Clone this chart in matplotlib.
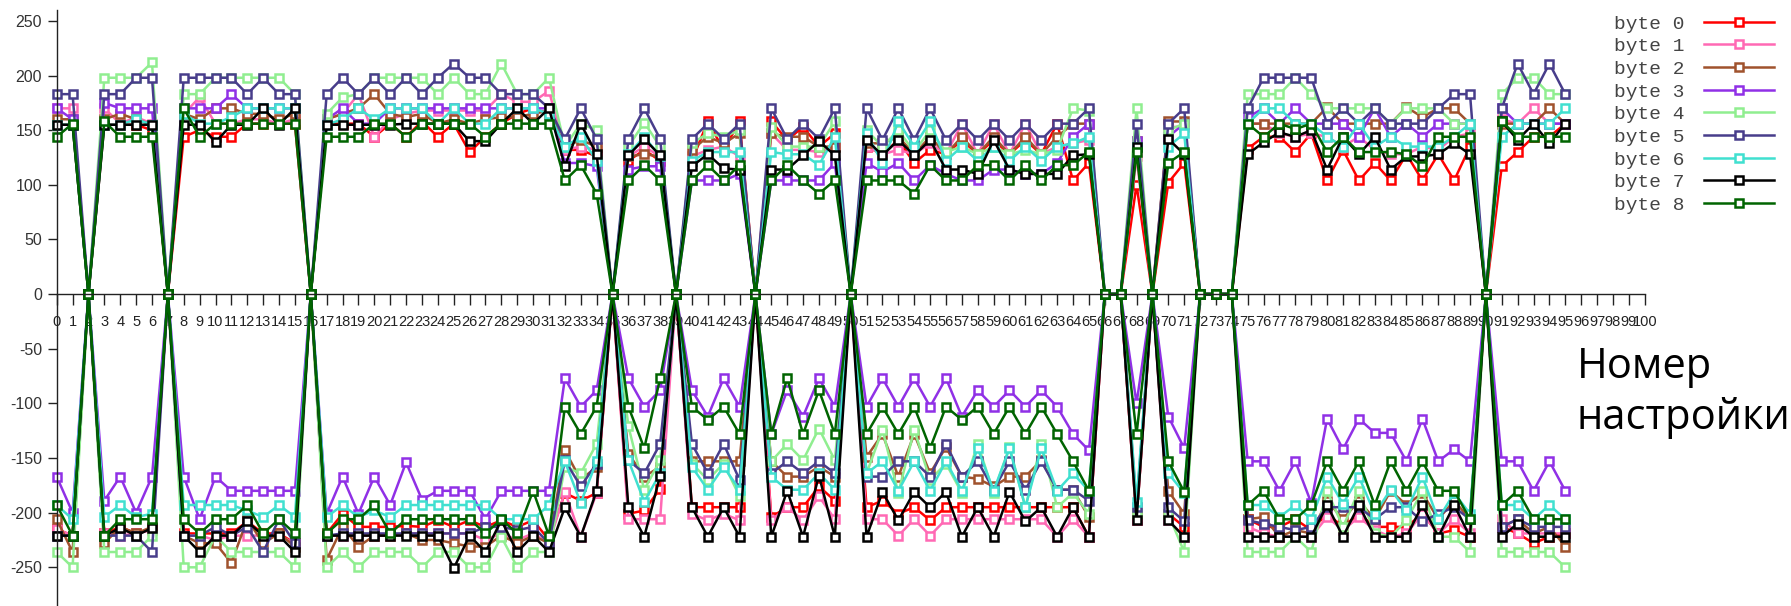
import numpy as np
import matplotlib
matplotlib.use("Agg")
import matplotlib.pyplot as plt

settings = list(range(96))
tick_values = list(range(0, 101))
y_ticks = list(range(-250, 251, 50))
labels = ["byte 0", "byte 1", "byte 2", "byte 3", "byte 4", "byte 5", "byte 6", "byte 7", "byte 8"]
colors = ["#ff0000", "#ff69b4", "#a0522d", "#9030e6", "#90ee90", "#483d8b", "#40e0d0", "#000000", "#006400"]

b0_pos = [155,155,0,155,155,155,150,0,
 144,150,144,144,156,156,156,156,0,
 156,156,156,144,156,144,158,144,156,130,144,156,165,170,165,132,132,126,0,
 122,132,122,0,
 122,158,132,158,0,
 158,141,153,135,147,0,
 135,128,141,120,132,128,141,128,141,128,141,128,156,104,120,0,0,
 100,0,102,120,0,0,0,
 133,144,144,130,147,104,132,104,120,104,128,104,128,104,135,0,
 117,130,144,144,156]
b1_pos = [170,170,0,170,156,162,156,0,
 165,180,156,156,160,160,156,160,0,
 160,165,183,144,160,165,168,168,168,168,168,183,176,176,186,132,135,132,0,
 126,135,126,0,
 126,132,135,126,0,
 147,132,132,130,135,0,
 135,128,132,128,138,128,156,128,156,128,156,128,135,138,141,0,0,
 126,0,153,153,0,0,0,
 156,156,147,144,147,144,135,144,132,128,128,135,132,144,147,0,
 160,156,170,156,156]
b2_pos = [160,160,0,160,165,160,155,0,
 165,160,170,170,165,165,160,165,0,
 160,165,170,183,165,162,165,156,160,156,160,162,162,165,168,135,141,135,0,
 126,128,126,0,
 132,144,138,147,0,
 147,144,144,135,135,0,
 138,138,144,128,144,128,144,128,144,128,144,128,144,156,156,0,0,
 140,0,158,158,0,0,0,
 156,156,156,156,156,171,156,156,156,156,171,162,170,170,156,0,
 156,156,156,170,156]
b3_pos = [170,160,0,175,170,170,170,0,
 170,170,170,183,170,170,170,170,0,
 160,170,156,156,170,170,170,170,170,170,170,170,170,170,170,120,120,117,0,
 114,117,117,0,
 104,104,104,110,0,
 104,104,104,104,120,0,
 120,112,120,104,118,110,104,104,114,114,110,110,120,144,156,0,0,
 140,0,144,156,0,0,0,
 162,170,156,170,156,156,156,144,170,144,156,144,156,156,156,0,
 170,156,156,156,156]
b4_pos = [155,155,0,198,198,198,212,0,
 183,183,198,198,198,198,198,183,0,
 165,180,183,198,198,198,198,183,198,183,183,211,183,183,198,135,156,150,0,
 135,157,135,0,
 138,147,144,150,0,
 153,135,135,135,158,0,
 150,135,150,130,150,130,135,128,135,128,132,128,132,170,168,0,0,
 170,0,150,156,0,0,0,
 183,183,183,198,183,170,170,170,170,156,170,170,170,156,156,0,
 183,198,198,183,183]
b5_pos = [183,183,0,183,183,198,198,0,
 198,198,198,198,183,198,183,183,0,
 183,198,183,198,183,198,183,198,211,198,198,183,183,183,170,142,170,142,0,
 142,170,142,0,
 142,156,142,156,0,
 170,142,156,142,170,0,
 170,141,170,141,170,141,156,141,156,141,156,141,156,156,170,0,0,
 156,0,156,170,0,0,0,
 170,198,198,198,198,156,170,156,170,156,156,156,170,183,183,0,
 170,211,183,211,183]
b6_pos = [155,155,0,155,155,160,155,0,
 165,156,156,162,170,170,170,170,0,
 155,160,170,160,170,170,170,156,170,156,156,170,170,170,165,135,144,122,0,
 128,144,126,0,
 122,130,130,130,0,
 130,128,128,118,144,0,
 147,120,158,135,158,122,135,122,135,122,135,122,135,138,144,0,0,
 135,0,135,147,0,0,0,
 156,170,170,156,156,144,135,156,135,144,135,135,135,144,156,0,
 144,156,156,156,170]
b7_pos = [155,155,0,155,155,155,155,0,
 155,155,139,155,155,170,155,170,0,
 155,155,155,155,155,156,156,156,156,140,140,156,170,156,170,117,156,128,0,
 127,142,127,0,
 117,128,115,114,0,
 114,114,127,140,127,0,
 141,127,141,127,141,114,114,110,141,114,110,110,110,127,128,0,0,
 135,0,142,128,0,0,0,
 128,139,148,144,150,114,144,128,144,114,126,126,128,138,128,0,
 158,141,156,138,156]
b8_pos = [144,156,0,158,144,144,144,0,
 170,144,156,156,156,156,156,156,0,
 144,144,144,156,156,144,156,156,156,156,144,156,156,156,156,104,118,92,0,
 104,118,104,0,
 104,118,104,118,0,
 104,118,104,92,104,0,
 104,104,104,92,118,104,104,118,118,104,118,104,118,118,130,0,0,
 130,0,120,130,0,0,0,
 156,144,156,151,156,130,144,130,130,130,128,117,144,144,144,0,
 158,144,144,144,144]

b0_neg = [-215,-221,0,-219,-213,-219,-215,0,
 -219,-219,-219,-219,-208,-219,-219,-228,0,
 -219,-201,-213,-213,-213,-212,-213,-207,-213,-207,-213,-207,-213,-207,-225,-182,-189,-182,0,
 -201,-198,-178,0,
 -195,-195,-195,-195,0,
 -204,-195,-195,-176,-189,0,
 -195,-189,-201,-195,-207,-195,-195,-195,-195,-195,-195,-195,-195,-195,-222,0,0,
 -207,0,-201,-213,0,0,0,
 -206,-213,-213,-206,-216,-201,-213,-201,-213,-213,-213,-201,-219,-216,-222,0,
 -213,-219,-228,-222,-219]
b1_neg = [-215,-221,0,-219,-221,-219,-216,0,
 -221,-221,-225,-221,-221,-221,-221,-228,0,
 -221,-221,-221,-221,-221,-219,-219,-219,-219,-219,-225,-219,-225,-219,-228,-181,-222,-182,0,
 -206,-206,-206,0,
 -201,-207,-201,-207,0,
 -207,-195,-207,-185,-206,0,
 -206,-206,-221,-206,-221,-206,-206,-206,-206,-206,-206,-206,-222,-206,-222,0,0,
 -207,0,-207,-222,0,0,0,
 -213,-219,-222,-222,-222,-204,-216,-204,-216,-222,-219,-201,-219,-206,-219,0,
 -206,-219,-219,-219,-219]
b2_neg = [-206,-236,0,-228,-213,-219,-213,0,
 -221,-228,-228,-246,-206,-228,-219,-231,0,
 -243,-213,-231,-221,-221,-219,-225,-225,-228,-231,-231,-221,-228,-221,-228,-143,-170,-158,0,
 -146,-167,-158,0,
 -153,-153,-153,-153,0,
 -153,-167,-167,-158,-167,0,
 -149,-128,-167,-128,-164,-140,-167,-169,-176,-167,-167,-152,-179,-179,-204,0,0,
 -200,0,-180,-201,0,0,0,
 -206,-204,-222,-216,-219,-189,-206,-189,-206,-180,-193,-182,-206,-189,-206,0,
 -213,-206,-219,-213,-231]
b3_neg = [-167,-200,0,-189,-167,-200,-167,0,
 -167,-206,-167,-180,-180,-180,-180,-180,0,
 -201,-167,-201,-167,-193,-154,-188,-180,-180,-180,-206,-180,-180,-180,-180,-77,-103,-88,0,
 -77,-103,-88,0,
 -88,-112,-77,-103,0,
 -128,-88,-112,-77,-103,0,
 -103,-77,-103,-77,-103,-77,-112,-88,-103,-88,-103,-88,-103,-128,-143,0,0,
 -100,0,-112,-141,0,0,0,
 -153,-153,-180,-153,-191,-114,-142,-114,-127,-127,-153,-114,-153,-142,-153,0,
 -153,-153,-180,-153,-180]
b4_neg = [-236,-250,0,-236,-236,-236,-221,0,
 -250,-250,-221,-236,-236,-236,-236,-250,0,
 -250,-236,-250,-236,-236,-236,-250,-236,-236,-250,-250,-222,-250,-236,-236,-158,-164,-137,0,
 -121,-179,-152,0,
 -155,-170,-155,-185,0,
 -153,-137,-152,-123,-152,0,
 -164,-124,-182,-124,-170,-155,-182,-137,-182,-140,-195,-137,-195,-182,-201,0,0,
 -200,0,-201,-236,0,0,0,
 -236,-236,-236,-222,-236,-180,-213,-180,-219,-222,-207,-180,-222,-222,-236,0,
 -236,-236,-236,-236,-250]
b5_neg = [-221,-221,0,-221,-221,-221,-236,0,
 -221,-221,-213,-221,-213,-236,-206,-228,0,
 -221,-219,-219,-219,-219,-219,-219,-219,-219,-219,-213,-213,-216,-213,-228,-152,-176,-155,0,
 -152,-164,-137,0,
 -137,-164,-137,-170,0,
 -164,-153,-164,-153,-164,0,
 -167,-167,-153,-153,-167,-137,-167,-153,-179,-153,-179,-153,-179,-179,-189,0,0,
 -195,0,-195,-208,0,0,0,
 -207,-210,-213,-216,-213,-195,-195,-195,-206,-195,-195,-208,-201,-195,-206,0,
 -213,-206,-213,-213,-213]
b6_neg = [-193,-206,0,-204,-193,-204,-201,0,
 -193,-193,-193,-193,-198,-204,-193,-204,0,
 -204,-193,-204,-198,-204,-193,-193,-193,-193,-193,-193,-206,-206,-206,-193,-153,-191,-153,0,
 -152,-190,-164,0,
 -158,-179,-158,-179,0,
 -167,-179,-179,-164,-179,0,
 -164,-153,-180,-153,-180,-153,-180,-141,-180,-141,-195,-141,-180,-164,-180,0,0,
 -190,0,-164,-182,0,0,0,
 -193,-193,-204,-193,-206,-167,-192,-167,-201,-179,-198,-167,-206,-182,-201,0,
 -193,-193,-206,-193,-206]
b7_neg = [-221,-221,0,-221,-214,-221,-214,0,
 -221,-236,-221,-221,-208,-221,-221,-236,0,
 -221,-221,-221,-221,-221,-221,-221,-221,-251,-221,-236,-207,-236,-221,-236,-195,-222,-180,0,
 -195,-222,-166,0,
 -195,-222,-195,-222,0,
 -222,-180,-222,-166,-222,0,
 -222,-181,-207,-181,-195,-181,-222,-195,-222,-181,-208,-195,-222,-195,-222,0,0,
 -207,0,-207,-222,0,0,0,
 -222,-222,-222,-222,-222,-193,-222,-193,-222,-222,-222,-193,-222,-193,-222,0,
 -222,-210,-222,-222,-222]
b8_neg = [-193,-221,0,-221,-206,-206,-206,0,
 -206,-219,-206,-206,-193,-219,-206,-219,0,
 -219,-206,-206,-193,-219,-206,-206,-206,-206,-206,-219,-206,-219,-180,-221,-103,-128,-103,0,
 -103,-141,-77,0,
 -103,-115,-103,-128,0,
 -128,-77,-128,-88,-128,0,
 -128,-103,-128,-103,-141,-103,-115,-103,-128,-103,-128,-103,-128,-153,-180,0,0,
 -128,0,-153,-181,0,0,0,
 -193,-180,-206,-206,-193,-153,-180,-153,-193,-153,-180,-153,-180,-180,-206,0,
 -193,-180,-206,-206,-206]

pos = [b0_pos, b1_pos, b2_pos, b3_pos, b4_pos, b5_pos, b6_pos, b7_pos, b8_pos]
neg = [b0_neg, b1_neg, b2_neg, b3_neg, b4_neg, b5_neg, b6_neg, b7_neg, b8_neg]

plt.rcParams['font.family'] = ['Liberation Sans', 'DejaVu Sans']
plt.rcParams['axes.unicode_minus'] = False

W, H = 1791, 606
fig = plt.figure(figsize=(W / 100, H / 100), dpi=100)
x0, x1, ytop = 56.7, 1644.7, 10
ax = fig.add_axes([x0 / W, 0, (x1 - x0) / W, (H - ytop) / H])

for i in range(9):
    kw = dict(color=colors[i], lw=1.8, marker='s', ms=5.6, mfc='white',
              mec=colors[i], mew=1.8, clip_on=False)
    ax.plot(settings, pos[i], label=labels[i], **kw)
    ax.plot(settings, neg[i], **kw)

ax.set_xlim(0, 100)
ax.set_ylim(-285.4, 260)
ax.spines['top'].set_visible(False)
ax.spines['right'].set_visible(False)
ax.spines['bottom'].set_position(('data', 0))
for s in ('left', 'bottom'):
    ax.spines[s].set_color('#222222')
    ax.spines[s].set_linewidth(1.0)
ax.set_xticks(tick_values)
ax.set_xticklabels([str(v) for v in tick_values])
ax.set_yticks(y_ticks)
ax.tick_params(axis='x', direction='out', length=8, width=1, pad=7,
               labelsize=10.5, labelcolor='#222222', color='#222222')
ax.tick_params(axis='y', direction='out', length=6.5, width=1, pad=4,
               labelsize=11.5, labelcolor='#333333', color='#222222')
ax.set_axisbelow(True)

ax.set_xlabel("Номер\nнастройки", fontsize=30, family=['Open Sans', 'DejaVu Sans'],
              ha='left', va='top', linespacing=1.3, multialignment='left')
ax.xaxis.set_label_coords((1577 - x0) / (x1 - x0), 0.437)

handles, labs = ax.get_legend_handles_labels()
fig.legend(handles, labs, loc='upper left', bbox_to_anchor=(1614 / W, 1 - 15 / H),
           frameon=False, markerfirst=False,
           prop={'family': ['Liberation Mono', 'DejaVu Sans Mono'], 'size': 14},
           labelcolor='#444444', handlelength=3.6, handletextpad=1.0,
           labelspacing=0.26, borderpad=0, borderaxespad=0, numpoints=1)

fig.savefig("out.png", dpi=100)
